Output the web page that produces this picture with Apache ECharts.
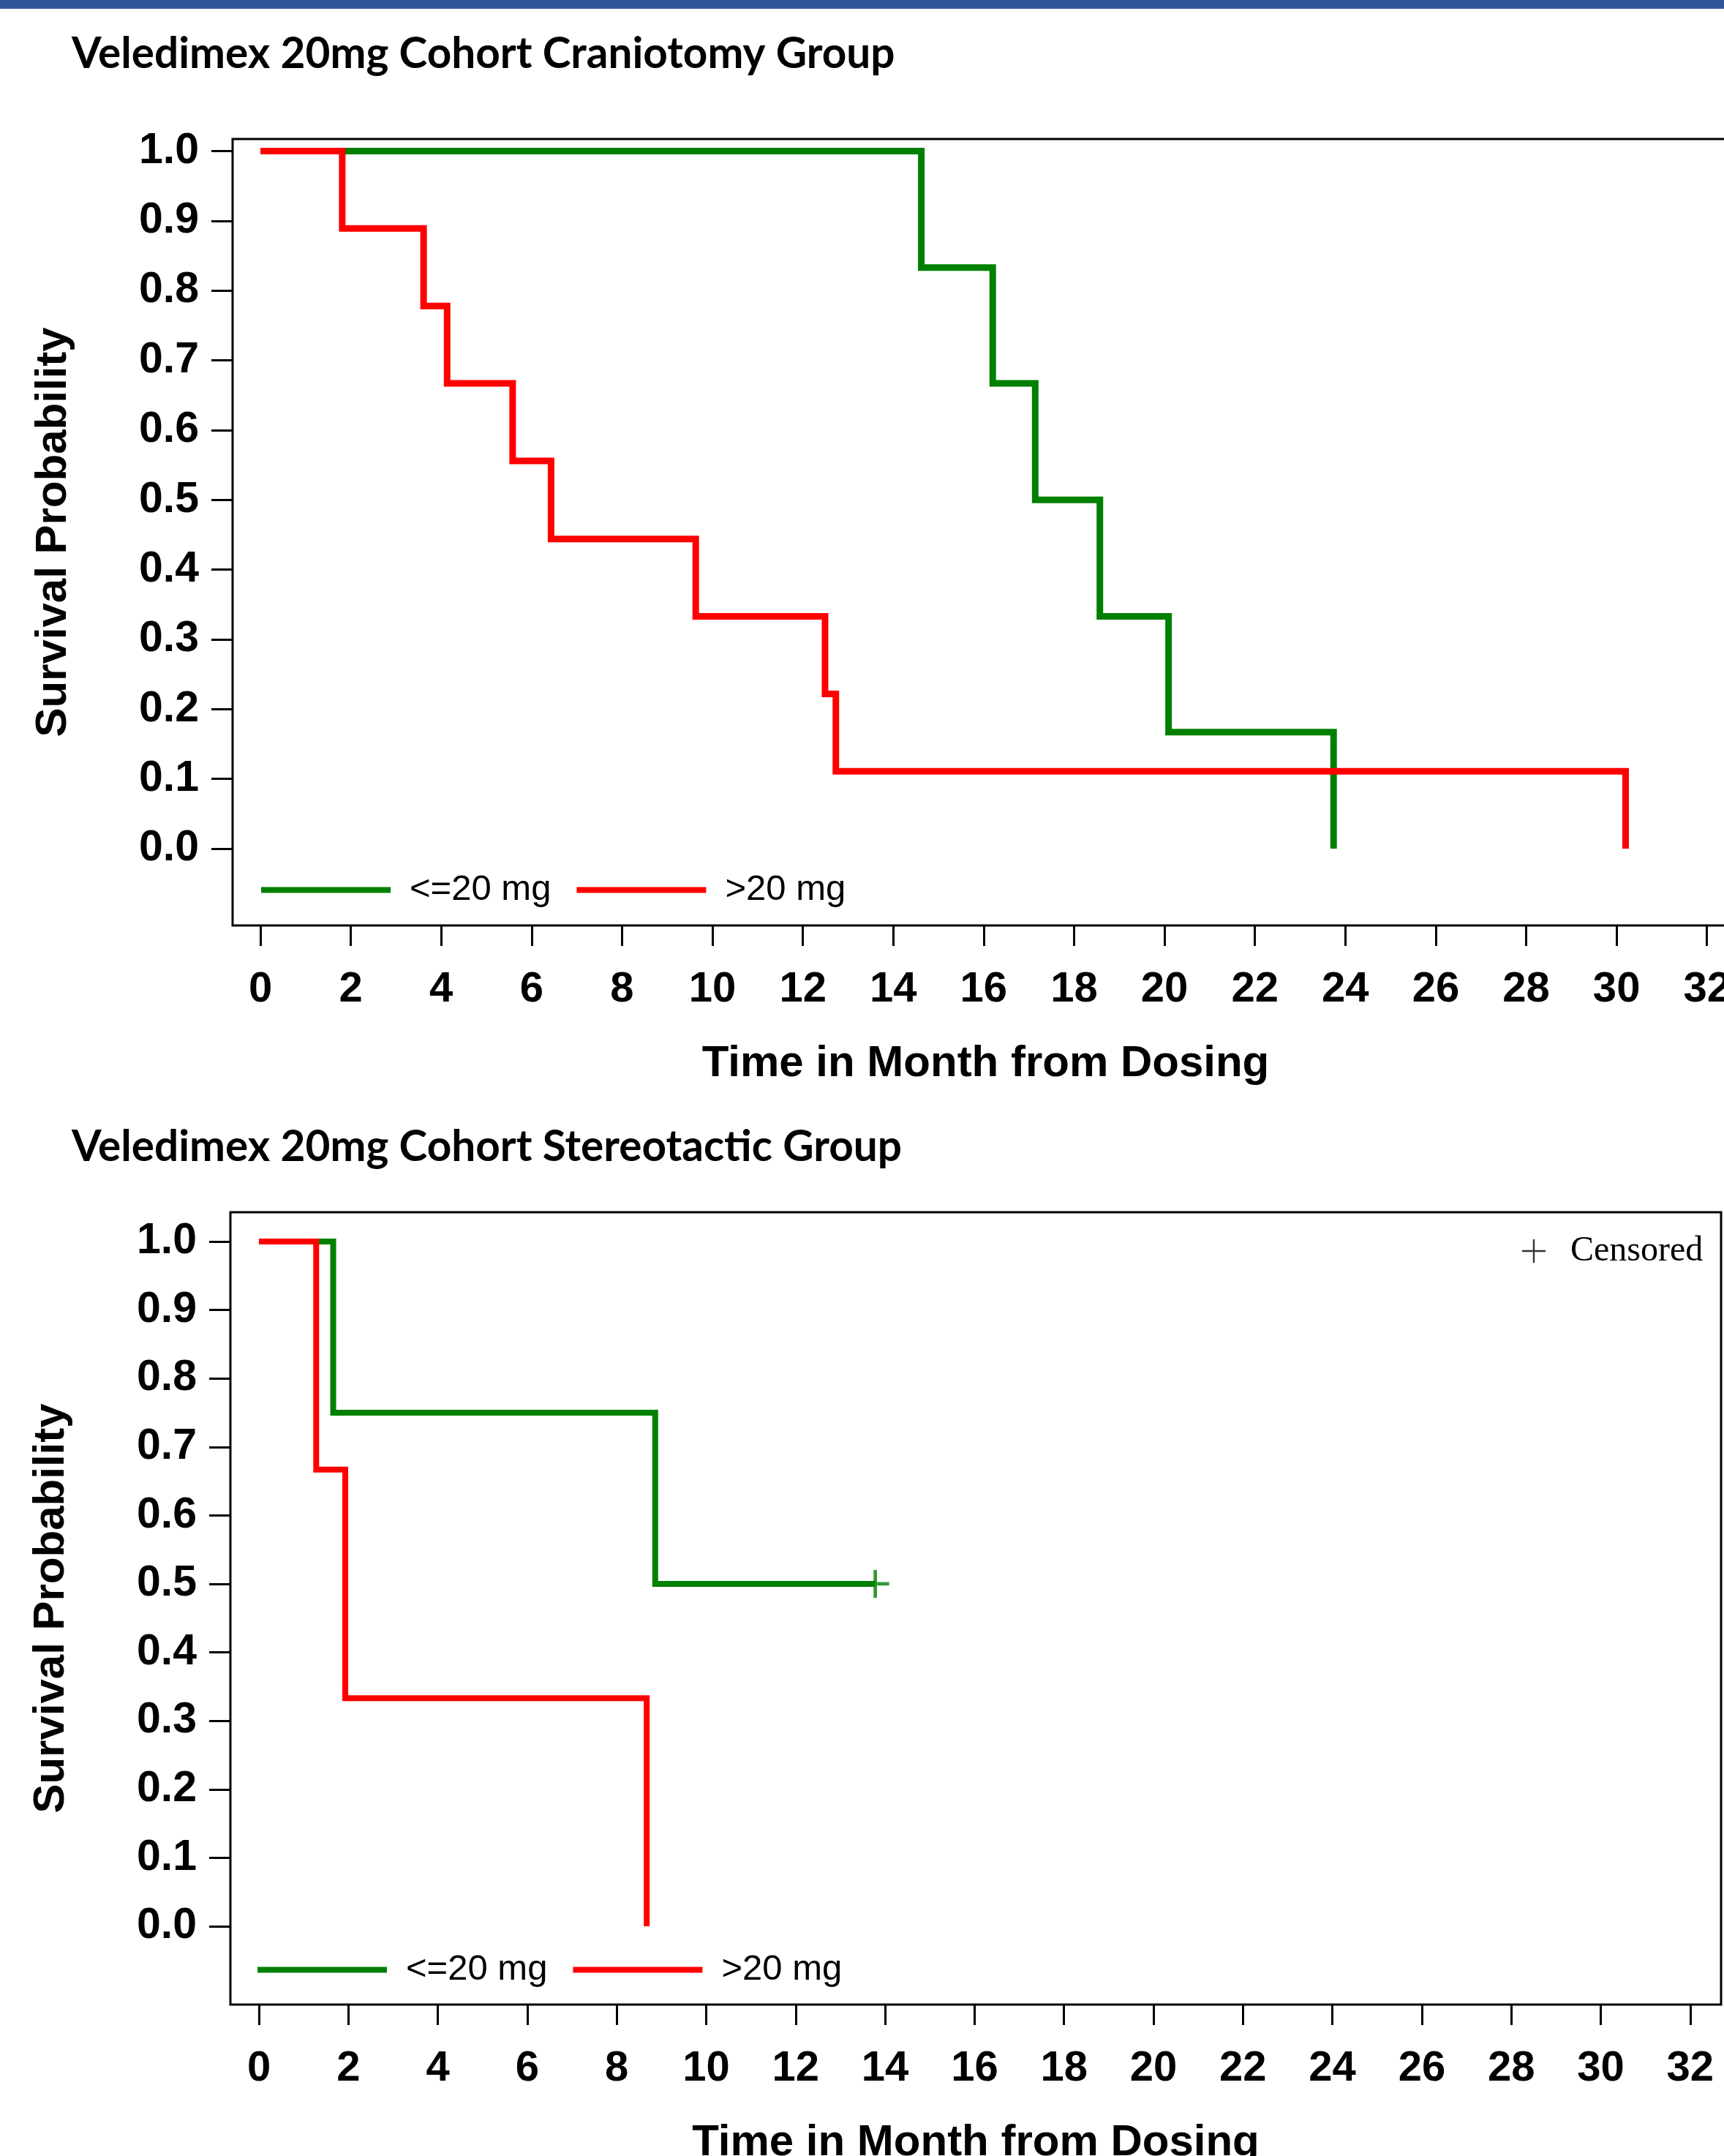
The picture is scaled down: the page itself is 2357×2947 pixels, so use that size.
<!DOCTYPE html>
<html>
<head>
<meta charset="utf-8">
<title>Veledimex 20mg Cohort</title>
<script src="https://cdn.jsdelivr.net/npm/echarts@6/dist/echarts.min.js"></script>
<style>
  html, body { margin: 0; padding: 0; background: #fff; }
  #km { width: 2357px; height: 2947px; }
</style>
</head>
<body>
<div id="km"></div>
<script>
// craniotomy group
const cranLowTime = [0, 14.62, 16.2, 17.14, 18.57, 20.09, 23.74];
const cranLowSurv = [1, 0.833, 0.667, 0.5, 0.333, 0.167, 0];
const cranHighTime = [0, 1.81, 3.61, 4.13, 5.58, 6.43, 9.63, 12.49, 12.73, 30.2];
const cranHighSurv = [1, 0.889, 0.778, 0.667, 0.556, 0.444, 0.333, 0.222, 0.111, 0];

// stereotactic group
const stereoLowTime = [0, 1.66, 8.86, 13.78];
const stereoLowSurv = [1, 0.75, 0.5, 0.5];
const stereoHighTime = [0, 1.28, 1.93, 8.67];
const stereoHighSurv = [1, 0.667, 0.333, 0];
const censoredTime = [13.78];
const censoredSurv = [0.5];

const xTicks = [0, 2, 4, 6, 8, 10, 12, 14, 16, 18, 20, 22, 24, 26, 28, 30, 32];
const yTicks = [0, 0.1, 0.2, 0.3, 0.4, 0.5, 0.6, 0.7, 0.8, 0.9, 1.0];

const GREEN = '#008000';
const RED = '#FF0000';
const PLUS = 'path://M17.5,0 H22.5 V17.5 H40 V22.5 H22.5 V40 H17.5 V22.5 H0 V17.5 H17.5 Z';
const PLUS_THIN = 'path://M18.5,0 H21.5 V18.5 H40 V21.5 H21.5 V40 H18.5 V21.5 H0 V18.5 H18.5 Z';

let chart = echarts.init(document.getElementById('km'));

function pairs(t, s) {
  return t.map((v, i) => [v, s[i]]);
}

function xAxisOf(gridIndex, min, max) {
  return {
    type: 'value',
    gridIndex: gridIndex,
    position: 'bottom',
    min: min,
    max: max,
    name: 'Time in Month from Dosing',
    nameLocation: 'middle',
    nameGap: 159,
    nameTextStyle: { fontFamily: 'Liberation Sans', fontWeight: 'bold', fontSize: 60, color: '#000' },
    axisLine: { show: false, onZero: false },
    splitLine: { show: false },
    axisTick: { show: true, length: 28, customValues: xTicks, lineStyle: { color: '#000', width: 3 } },
    axisLabel: {
      customValues: xTicks,
      margin: 59,
      fontFamily: 'Liberation Sans', fontWeight: 'bold', fontSize: 58, color: '#000'
    }
  };
}

function yAxisOf(gridIndex, min, max) {
  return {
    type: 'value',
    gridIndex: gridIndex,
    position: 'left',
    min: min,
    max: max,
    name: 'Survival Probability',
    nameLocation: 'middle',
    nameGap: 215,
    nameTextStyle: { fontFamily: 'Liberation Sans', fontWeight: 'bold', fontSize: 60, color: '#000' },
    axisLine: { show: false, onZero: false },
    splitLine: { show: false },
    axisTick: { show: true, length: 29, customValues: yTicks, lineStyle: { color: '#000', width: 3 } },
    axisLabel: {
      customValues: yTicks,
      margin: 46,
      formatter: v => v.toFixed(1),
      fontFamily: 'Liberation Sans', fontWeight: 'bold', fontSize: 59, color: '#000'
    }
  };
}

function kmLine(name, color, idx, data, width) {
  return {
    name: name,
    type: 'line',
    xAxisIndex: idx,
    yAxisIndex: idx,
    step: 'end',
    symbol: 'none',
    data: data,
    color: color,
    lineStyle: { color: color, width: width, join: 'miter', cap: 'butt' },
    emphasis: { disabled: true }
  };
}

let legendText = { fontFamily: 'Liberation Sans', fontSize: 49, color: '#000', padding: [0, 0, 0, 21] };

let option = {
  backgroundColor: '#fff',
  animation: false,
  title: [
    {
      text: 'Veledimex 20mg Cohort Craniotomy Group',
      left: 93, top: 40,
      textStyle: { fontFamily: 'Lato', fontWeight: 'bold', fontSize: 58.5, color: '#000' }
    },
    {
      text: 'Veledimex 20mg Cohort Stereotactic Group',
      left: 93, top: 1534,
      textStyle: { fontFamily: 'Lato', fontWeight: 'bold', fontSize: 58.5, color: '#000' }
    }
  ],
  graphic: [
    { type: 'rect', left: 0, top: 0, shape: { width: 2357, height: 12 }, style: { fill: '#2F5597' } }
  ],
  grid: [
    { left: 318, top: 190, width: 2059, height: 1075, outerBoundsMode: 'none', show: true, borderColor: '#000', borderWidth: 3, backgroundColor: '#fff' },
    { left: 315, top: 1657, width: 2038, height: 1083, outerBoundsMode: 'none', show: true, borderColor: '#000', borderWidth: 3, backgroundColor: '#fff' }
  ],
  xAxis: [
    xAxisOf(0, -0.615, 32.7),
    xAxisOf(1, -0.638, 32.69)
  ],
  yAxis: [
    yAxisOf(0, -0.11, 1.0173),
    yAxisOf(1, -0.1143, 1.0427)
  ],
  legend: [
    {
      left: 357, top: 1192, padding: 0,
      data: ['<=20 mg', '>20 mg'],
      icon: 'rect', itemWidth: 177, itemHeight: 8, itemGap: 35,
      selectedMode: false,
      textStyle: legendText
    },
    {
      left: 352, top: 2668, padding: 0,
      data: ['<=20 mg', '>20 mg'],
      icon: 'rect', itemWidth: 177, itemHeight: 8, itemGap: 35,
      selectedMode: false,
      textStyle: legendText
    },
    {
      left: 2081, top: 1686, padding: 0,
      data: [{ name: 'Censored', icon: PLUS_THIN, itemStyle: { color: '#000' } }],
      itemWidth: 32, itemHeight: 32,
      selectedMode: false,
      textStyle: { fontFamily: 'Liberation Serif', fontSize: 48, color: '#000', padding: [0, 0, 0, 29] }
    }
  ],
  series: [
    kmLine('<=20 mg', GREEN, 0, pairs(cranLowTime, cranLowSurv), 9),
    kmLine('>20 mg', RED, 0, pairs(cranHighTime, cranHighSurv), 9),
    kmLine('<=20 mg', GREEN, 1, pairs(stereoLowTime, stereoLowSurv), 8),
    kmLine('>20 mg', RED, 1, pairs(stereoHighTime, stereoHighSurv), 8),
    {
      name: 'Censored',
      type: 'scatter',
      xAxisIndex: 1,
      yAxisIndex: 1,
      symbol: PLUS,
      symbolSize: 38,
      data: pairs(censoredTime, censoredSurv),
      itemStyle: { color: GREEN },
      emphasis: { disabled: true }
    }
  ]
};

chart.setOption(option);
</script>
</body>
</html>
